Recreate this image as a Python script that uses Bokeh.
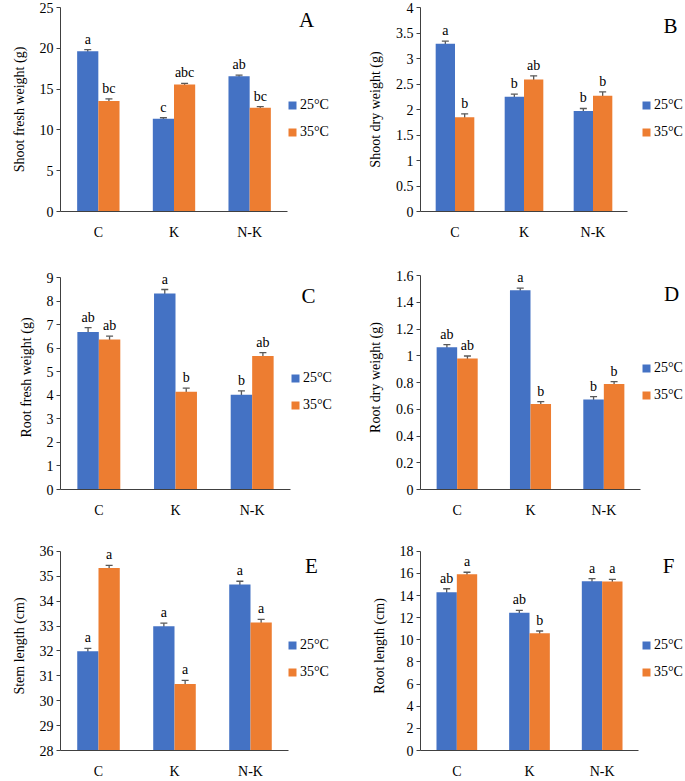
from bokeh.plotting import figure
from bokeh.layouts import gridplot
from bokeh.models import (ColumnDataSource, Range1d, FixedTicker,
                          Whisker, TeeHead, Legend, LegendItem, Label)
from bokeh.transform import dodge
from bokeh.core.properties import value
from bokeh.embed import file_html
from bokeh.resources import INLINE

FONT = "Liberation Serif"
BLUE = "#4472C4"
ORANGE = "#ED7D31"
AXIS = "#404040"
ERR = "#595959"

cats = ["C", "K", "N-K"]
temps = ["25°C", "35°C"]

# A: Shoot fresh weight (g)
A_25 = [19.64, 11.37, 16.57]
A_25_err = [0.2, 0.12, 0.14]
A_25_sig = ["a", "c", "ab"]
A_35 = [13.54, 15.55, 12.72]
A_35_err = [0.27, 0.14, 0.14]
A_35_sig = ["bc", "abc", "bc"]
A_ticks = [0, 5, 10, 15, 20, 25]
A_tick_labels = ["0", "5", "10", "15", "20", "25"]

# B: Shoot dry weight (g)
B_25 = [3.29, 2.25, 1.97]
B_25_err = [0.05, 0.05, 0.05]
B_25_sig = ["a", "b", "b"]
B_35 = [1.85, 2.59, 2.27]
B_35_err = [0.065, 0.07, 0.075]
B_35_sig = ["b", "ab", "b"]
B_ticks = [0, 0.5, 1, 1.5, 2, 2.5, 3, 3.5, 4]
B_tick_labels = ["0", "0.5", "1", "1.5", "2", "2.5", "3", "3.5", "4"]

# C: Root fresh weight (g)
C_25 = [6.69, 8.32, 4.02]
C_25_err = [0.18, 0.17, 0.17]
C_25_sig = ["ab", "a", "b"]
C_35 = [6.37, 4.15, 5.67]
C_35_err = [0.14, 0.15, 0.14]
C_35_sig = ["ab", "b", "ab"]
C_ticks = [0, 1, 2, 3, 4, 5, 6, 7, 8, 9]
C_tick_labels = ["0", "1", "2", "3", "4", "5", "6", "7", "8", "9"]

# D: Root dry weight (g)
D_25 = [1.063, 1.49, 0.672]
D_25_err = [0.02, 0.015, 0.023]
D_25_sig = ["ab", "a", "b"]
D_35 = [0.98, 0.64, 0.789]
D_35_err = [0.018, 0.017, 0.017]
D_35_sig = ["ab", "b", "b"]
D_ticks = [0, 0.2, 0.4, 0.6, 0.8, 1, 1.2, 1.4, 1.6]
D_tick_labels = ["0", "0.2", "0.4", "0.6", "0.8", "1", "1.2", "1.4", "1.6"]

# E: Stem length (cm)
E_25 = [31.99, 32.99, 34.67]
E_25_err = [0.11, 0.125, 0.13]
E_25_sig = ["a", "a", "a"]
E_35 = [35.33, 30.67, 33.14]
E_35_err = [0.11, 0.15, 0.13]
E_35_sig = ["a", "a", "a"]
E_ticks = [28, 29, 30, 31, 32, 33, 34, 35, 36]
E_tick_labels = ["28", "29", "30", "31", "32", "33", "34", "35", "36"]

# F: Root length (cm)
F_25 = [14.3, 12.45, 15.3]
F_25_err = [0.32, 0.22, 0.24]
F_25_sig = ["ab", "ab", "a"]
F_35 = [15.93, 10.6, 15.28]
F_35_err = [0.18, 0.2, 0.18]
F_35_sig = ["a", "b", "a"]
F_ticks = [0, 2, 4, 6, 8, 10, 12, 14, 16, 18]
F_tick_labels = ["0", "2", "4", "6", "8", "10", "12", "14", "16", "18"]


def panel(letter, ylabel, v25, e25, s25, v35, e35, s35, ticks, tick_labels,
          W, H, left, top, fw_total, fw_data, fh_total, top_extra,
          leg_x, leg_y, let_x, let_y):
    y0, y1 = ticks[0], ticks[-1]
    n = len(cats)
    fh_data = fh_total - top_extra
    x_end = n * fw_total / fw_data
    y_end = y0 + (y1 - y0) * fh_total / fh_data
    p = figure(width=W, height=H, x_range=Range1d(0, x_end),
               y_range=Range1d(y0, y_end), output_backend="svg", toolbar_location=None,
               min_border_left=left, min_border_top=top,
               min_border_right=W - left - fw_total,
               min_border_bottom=H - top - fh_total)
    src = ColumnDataSource(dict(
        x=[i + 0.5 for i in range(n)], v25=v25, v35=v35,
        lo25=[v - e for v, e in zip(v25, e25)], hi25=[v + e for v, e in zip(v25, e25)],
        lo35=[v - e for v, e in zip(v35, e35)], hi35=[v + e for v, e in zip(v35, e35)],
        s25=s25, s35=s35))
    rends = []
    for off, key, col in [(-0.14, "25", BLUE), (0.14, "35", ORANGE)]:
        r = p.vbar(x=dodge("x", off), top="v" + key, bottom=y0, width=0.28,
                   fill_color=col, line_color=None, source=src)
        rends.append(r)
        w = Whisker(base=dodge("x", off), upper="hi" + key,
                    lower="lo" + key, source=src, line_color=ERR, line_width=1.3,
                    upper_head=TeeHead(size=7, line_color=ERR, line_width=1.3),
                    lower_head=TeeHead(size=7, line_color=ERR, line_width=1.3))
        p.add_layout(w)
        p.text(x=dodge("x", off), y="hi" + key, text="s" + key,
               source=src, text_align="center", text_baseline="bottom", y_offset=-3,
               text_font=value(FONT), text_font_size="14px", text_color="black")

    p.xgrid.visible = False
    p.ygrid.visible = False
    p.outline_line_color = None
    p.background_fill_color = "white"
    p.border_fill_color = "white"

    xa = p.xaxis[0]
    xa.bounds = (0, n)
    xa.ticker = FixedTicker(ticks=[i + 0.5 for i in range(n)], minor_ticks=[])
    xa.major_label_overrides = {i + 0.5: c for i, c in enumerate(cats)}
    xa.axis_line_color = AXIS
    xa.major_tick_line_color = None
    xa.minor_tick_line_color = None
    xa.major_label_text_font = FONT
    xa.major_label_text_font_size = "14px"
    xa.major_label_text_color = "black"
    xa.major_label_standoff = 7

    ya = p.yaxis[0]
    ya.bounds = (y0, y1)
    ya.ticker = FixedTicker(ticks=ticks, minor_ticks=[])
    ya.major_label_overrides = dict(zip(ticks, tick_labels))
    ya.axis_line_color = AXIS
    ya.major_tick_line_color = AXIS
    ya.major_tick_out = 4
    ya.major_tick_in = 0
    ya.minor_tick_line_color = None
    ya.major_label_text_font = FONT
    ya.major_label_text_font_size = "14px"
    ya.major_label_text_color = "black"
    ya.major_label_standoff = 3
    ya.axis_label = ylabel
    ya.axis_label_text_font = FONT
    ya.axis_label_text_font_size = "14px"
    ya.axis_label_text_font_style = "normal"
    ya.axis_label_text_color = "black"
    ya.axis_label_standoff = 10

    leg = Legend(items=[LegendItem(label=temps[0], renderers=[rends[0]]),
                        LegendItem(label=temps[1], renderers=[rends[1]])],
                 location=(leg_x, leg_y), glyph_width=10, glyph_height=10,
                 label_standoff=3, spacing=11, padding=0, margin=0,
                 label_height=16, border_line_color=None, background_fill_alpha=0,
                 label_text_font=FONT, label_text_font_size="14px",
                 label_text_color="black")
    p.add_layout(leg)

    p.add_layout(Label(x=let_x, y=let_y, x_units="screen", y_units="screen",
                       text=letter, text_font=FONT, text_font_size="21px",
                       text_align="center", text_baseline="middle",
                       text_color="black"))
    return p


#                                  W    H   left top  fwT  fwD  fhT  topx  legx legy letx lety
pA = panel("A", "Shoot fresh weight (g)", A_25, A_25_err, A_25_sig, A_35, A_35_err, A_35_sig,
           A_ticks, A_tick_labels, 340, 260, 60, 7, 275, 227, 204, 0, 227, 71, 246, 192)
pB = panel("B", "Shoot dry weight (g)", B_25, B_25_err, B_25_sig, B_35, B_35_err, B_35_sig,
           B_ticks, B_tick_labels, 345, 260, 80, 7, 265, 207, 204, 0, 221, 71, 250, 186)
pC = panel("C", "Root fresh weight (g)", C_25, C_25_err, C_25_sig, C_35, C_35_err, C_35_sig,
           C_ticks, C_tick_labels, 340, 260, 60, 5, 275, 230, 224, 12, 230, 76, 248, 194)
pD = panel("D", "Root dry weight (g)", D_25, D_25_err, D_25_sig, D_35, D_35_err, D_35_sig,
           D_ticks, D_tick_labels, 345, 260, 80, 5, 265, 220, 224, 10, 221, 86, 251, 196)
pE = panel("E", "Stem length (cm)", E_25, E_25_err, E_25_sig, E_35, E_35_err, E_35_sig,
           E_ticks, E_tick_labels, 340, 261, 60, 21, 275, 228, 212, 10, 227, 70, 251, 185)
pF = panel("F", "Root length (cm)", F_25, F_25_err, F_25_sig, F_35, F_35_err, F_35_sig,
           F_ticks, F_tick_labels, 345, 261, 80, 21, 265, 218, 212, 10, 221, 70, 248, 185)

grid = gridplot([[pA, pB], [pC, pD], [pE, pF]], toolbar_location=None)

open("out.html", "w").write(file_html(grid, INLINE))
